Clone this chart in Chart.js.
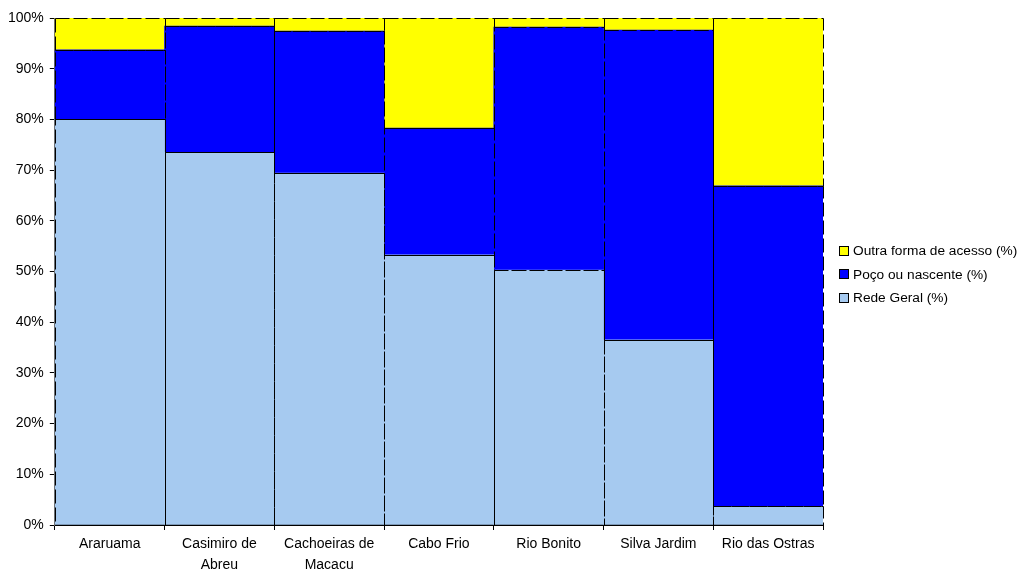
<!DOCTYPE html>
<html>
<head>
<meta charset="utf-8">
<script src="https://cdn.jsdelivr.net/npm/chart.js@4/dist/chart.umd.min.js"></script>
<style>
  html, body { margin: 0; padding: 0; background: #fff; overflow: hidden; }
  #wrap { position: relative; width: 1022px; height: 570px; }
  #legend { position: absolute; left: 839px; top: 239px; font-family: 'Liberation Sans', Arial, sans-serif; font-size: 13.7px; color: #000; }
  #legend .item { height: 23.5px; display: flex; align-items: center; white-space: nowrap; }
  #legend .box { width: 8px; height: 8px; border: 1px solid #000; margin-right: 4px; }
</style>
</head>
<body>
<div id="wrap">
  <canvas id="chart" width="1022" height="570"></canvas>
  <div id="legend"></div>
</div>
<script>
const municipios = [
  'Araruama',
  ['Casimiro de', 'Abreu'],
  ['Cachoeiras de', 'Macacu'],
  'Cabo Frio',
  'Rio Bonito',
  'Silva Jardim',
  'Rio das Ostras'
];
const redeGeral = [80.0, 73.5, 69.4, 53.3, 50.3, 36.5, 3.7];
const pocoNascente = [13.7, 24.9, 28.0, 25.0, 47.9, 61.1, 63.2];
const outraForma = [6.3, 1.6, 2.6, 21.7, 1.8, 2.4, 33.1];
const yTicks = [0, 10, 20, 30, 40, 50, 60, 70, 80, 90, 100];

const axisFont = { family: 'Liberation Sans, Arial', size: 14, lineHeight: 1.5 };

// dashed outline round every bar, read from the bar elements
const dashedBorders = {
  id: 'dashedBorders',
  afterDatasetsDraw(chart) {
    const ctx = chart.ctx;
    ctx.save();
    ctx.strokeStyle = '#000';
    ctx.lineWidth = 1;
    ctx.setLineDash([14, 4]);
    chart.data.datasets.forEach((ds, i) => {
      chart.getDatasetMeta(i).data.forEach(bar => {
        const left = Math.round(bar.x - bar.width / 2) + 0.5;
        const right = Math.round(bar.x + bar.width / 2) + 0.5;
        const top = Math.round(Math.min(bar.y, bar.base)) + 0.5;
        const bottom = Math.round(Math.max(bar.y, bar.base)) + 0.5;
        ctx.strokeRect(left, top, right - left, bottom - top);
      });
    });
    ctx.restore();
  }
};

const ctx = document.getElementById('chart').getContext('2d');
const chart = new Chart(ctx, {
  type: 'bar',
  data: {
    labels: municipios,
    datasets: [
      { label: 'Rede Geral (%)', data: redeGeral, backgroundColor: '#a6caf0' },
      { label: 'Poço ou nascente (%)', data: pocoNascente, backgroundColor: '#0000ff' },
      { label: 'Outra forma de acesso (%)', data: outraForma, backgroundColor: '#ffff00' }
    ]
  },
  options: {
    responsive: false,
    animation: false,
    layout: { padding: { top: 18, left: 2, right: 199, bottom: 0 } },
    datasets: {
      bar: { categoryPercentage: 1, barPercentage: 1, borderWidth: 0 }
    },
    scales: {
      x: {
        stacked: true,
        afterFit: axis => { axis.height = 45; },
        grid: { offset: true, drawOnChartArea: false, drawTicks: true, tickLength: 5, color: '#000' },
        border: { display: true, color: '#000', width: 2 },
        ticks: { color: '#000', font: axisFont, maxRotation: 0, autoSkip: false, padding: 4 }
      },
      y: {
        stacked: true,
        min: 0,
        max: 100,
        afterBuildTicks: axis => { axis.ticks = yTicks.map(v => ({ value: v })); },
        grid: { drawOnChartArea: false, drawTicks: true, tickLength: 5, color: '#000' },
        border: { display: true, color: '#666', width: 1 },
        ticks: { color: '#000', font: axisFont, padding: 6, callback: v => v + '%' }
      }
    },
    plugins: {
      legend: { display: false },
      tooltip: { enabled: false }
    }
  },
  plugins: [dashedBorders]
});

// legend, top entry first as in the original
const legend = document.getElementById('legend');
chart.data.datasets.slice().reverse().forEach(ds => {
  const item = document.createElement('div');
  item.className = 'item';
  const box = document.createElement('span');
  box.className = 'box';
  box.style.background = ds.backgroundColor;
  const txt = document.createElement('span');
  txt.textContent = ds.label;
  item.appendChild(box);
  item.appendChild(txt);
  legend.appendChild(item);
});
</script>
</body>
</html>
